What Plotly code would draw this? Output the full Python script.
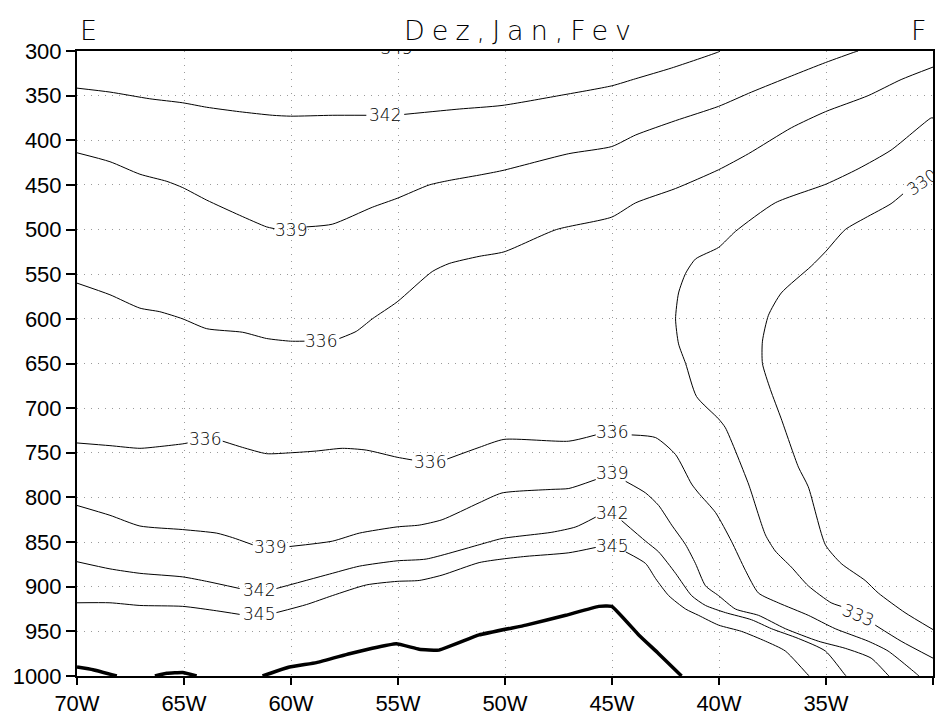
import plotly.graph_objects as go

# Axis ticks
LON_TICKS = [-70, -65, -60, -55, -50, -45, -40, -35, -30]
LON_LABELS = ["70W", "65W", "60W", "55W", "50W", "45W", "40W", "35W", "30W"]
P_TICKS = [300, 350, 400, 450, 500, 550, 600, 650, 700, 750, 800, 850, 900, 950, 1000]

# Equivalent potential temperature isolines (lon, hPa); None leaves a gap for the label
th342_top_lon = [-70, -68.46, -66.6, -65.06, -63.94, -62.4, -60.86, -60.02, -58.07, -56.48, None,
                 -54.71, -52.14, -50.14, -47.48, -45.01, -43.89, -42.21, -40.02, -39.95]
th342_top_p = [341.6, 346, 353.5, 358, 363, 368, 372, 373, 372, 372, None,
               371, 365, 361, 350, 339, 331, 319, 301, 300]

th339_top_lon = [-70, -68.46, -67.06, -65.8, -65.06, -63.94, -62.4, -61.14, -60.77, None,
                 -59.28, -58.07, -56.2, -55.04, -53.54, -52.61, -51.21, -50.14, -47.02, -45.01,
                 -43.89, -42.03, -40.02, -38.48, -36.62, -35.03, -33.64, -33.5]
th339_top_p = [414, 424, 438, 446, 453, 467, 484, 497, 499, None,
               497, 494, 475, 465, 450, 445, 439, 434, 415, 407,
               394, 378, 362, 346, 328, 313, 301, 300]

th336_top_lon = [-70, -68.46, -67.06, -66.13, -65.06, -63.94, -62.26, -61.14, -60.02, -59.37, None,
                 -57.74, -56.95, -56.2, -55.04, -53.4, -52.61, -51.21, -50.05, -47.6,
                 -45.01, -43.89, -42.03, -40.02, -38.62, -36.62, -35.03, -33.03, -31.49, -30]
th336_top_p = [560, 573, 588, 592, 600, 611, 615, 622, 625, 625, None,
               622, 614, 600, 581, 547, 538, 530, 525, 500,
               486, 470, 454, 433, 415, 386, 368, 350, 332, 318]

th333_lon = [-30, -30.09, -31.96, -33.5, -34.99, -37.37, -39.23, -40.02, -41.1, -41.56, -41.89,
             -42.03, -41.89, -41.56, -41.05, -40.02, -39.7, -38.62, -38.48, -37.83, -37.37,
             -36.62, -35.83, -34.76, -34.29, None, -32.7, -31.49, -30]
th333_p = [375, 375, 411, 432, 449, 470, 502, 520, 533, 549, 571,
           600, 628, 650, 687, 712, 722, 785, 795, 842, 860,
           878, 899, 918, 922, None, 943, 961, 980]

th330_lon = [-31.4, -31.96, -33.17, -34.1, -35.03, -35.69, -37.09, -37.69, -37.97, -37.97,
             -37.6, -37.09, -36.29, -35.83, -35.03, -34.29, -33.17, -32.56, -31.31, -30]
th330_p = [460, 471, 487, 500, 525, 541, 571, 596, 625, 650,
           679, 712, 766, 788, 853, 874, 893, 907, 929, 948]

th336_low_lon = [-70, -68.46, -67.06, -66.13, -65.06, -64.83, None,
                 -63.19, -62.26, -61.14, -60.02, -58.81, -57.6, -56.48, -55.04, -54.34, None,
                 -52.7, -51.21, -50.05, -47.02, -45.76, None,
                 -44.08, -42.96, -42.03, -41.28, -40.96, -40.16, -39.42, -38.76, -38.16, -37.23,
                 -35.83, -34.57, -33.03, -32.1, -30.7, -30.65]
th336_low_p = [739, 742, 745, 743, 740, 739, None,
               737, 744, 751, 750, 748, 745, 747, 755, 758, None,
               757, 744, 735, 737, 730, None,
               730, 733, 752, 785, 795, 817, 849, 882, 907, 918,
               932, 947, 961, 972, 999, 1000]

th339_low_lon = [-70, -68.46, -67.06, -65.06, -63.47, -62.73, -61.79, None,
                 -60.07, -58.07, -56.81, -55.04, -54.01, -52.94, -51.21, -50.14, -47.81, -47.02, -45.76, None,
                 -44.36, -43.43, -42.82, -42.21, -41.56, -41.1, -40.63, -40.02, -39.23, -38.16,
                 -36.9, -35.36, -34.1, -32.89, -32.1, -32.05]
th339_low_p = [809, 820, 832, 836, 840, 845, 853, None,
               855, 849, 840, 833, 831, 825, 806, 795, 791, 790, 780, None,
               782, 795, 809, 831, 853, 874, 899, 910, 925, 932,
               947, 961, 969, 980, 999, 1000]

th342_low_lon = [-70, -68.46, -67.06, -65.06, -63.94, -62.4, None,
                 -60.68, -58.07, -56.81, -55.04, -53.68, -51.21, -50.14, -47.81, -46.69, -45.76, None,
                 -44.55, -43.43, -42.82, -42.03, -41.28, -40.63, -39.7, -38.48, -37.55, -36.29,
                 -35.03, -34.1, -34.05]
th342_low_p = [872, 880, 885, 889, 894, 902, None,
               902, 885, 877, 871, 869, 853, 846, 839, 833, 822, None,
               826, 849, 861, 885, 910, 921, 929, 937, 947, 958,
               972, 999, 1000]

th345_low_lon = [-70, -68.46, -67.06, -65.06, -63.47, -62.4, None,
                 -60.68, -59.28, -58.07, -56.48, -55.04, -54.01, -52.94, -51.21, -50.14, -49.02, -47.02, -45.76, None,
                 -44.36, -43.43, -42.96, -42.35, -41.56, -40.96, -40.02, -38.95, -37.83, -36.9,
                 -35.83, -35.78]
th345_low_p = [918, 918, 921, 922, 927, 931, None,
               929, 920, 910, 898, 894, 893, 887, 873, 869, 866, 862, 856, None,
               861, 874, 891, 910, 925, 932, 943, 950, 961, 972,
               999, 1000]

isolines = [
    (th342_top_lon, th342_top_p), (th339_top_lon, th339_top_p), (th336_top_lon, th336_top_p),
    (th333_lon, th333_p), (th330_lon, th330_p), (th336_low_lon, th336_low_p),
    (th339_low_lon, th339_low_p), (th342_low_lon, th342_low_p), (th345_low_lon, th345_low_p),
]

# Surface (terrain) outline
terrain_lon = [-70, -69.25, -68.14, None, -66.36, -65.8, -65.06, -64.41, None,
               -61.33, -60.07, -58.81, -57.27, -56.2, -55.08, -54.01, -53.08, -51.21,
               -49.02, -47.16, -45.62, -45.01, -43.75, -42.82, -41.75]
terrain_p = [990, 993, 1000, None, 1000, 997, 996, 1000, None,
             1000, 990, 985, 975, 969, 964, 970, 971, 954,
             943, 932, 922, 922, 954, 975, 1000]

# Isoline labels
label_lon = [-55.6, -60.0, -58.6, -64.03, -53.5, -45.01, -61.0, -45.01, -61.51, -45.01, -61.51, -45.01, -33.5]
label_p = [372, 500, 625, 734, 760, 727, 856, 773, 904, 817, 930, 854, 932]
label_text = ["342", "339", "336", "336", "336", "336", "339", "339", "342", "342", "345", "345", "333"]
label_angle = [0, 0, 0, 0, 0, 0, 0, 0, 0, 0, 0, 0, 22]

# Labels that sit on the frame (clipped)
edge_label_lon = [-55.06]
edge_label_p = [298.5]
edge_label_text = ["345"]
rot_label_lon, rot_label_p, rot_label_text, rot_label_angle = -30.5, 447, "330", -35

LABEL_FONT = dict(family="DejaVu Sans", size=17, color="black", weight=200)

fig = go.Figure()

for lon, p in isolines:
    fig.add_trace(go.Scatter(x=lon, y=p, mode="lines",
                             line=dict(color="black", width=1, shape="spline", smoothing=0.6),
                             connectgaps=False, hoverinfo="skip", showlegend=False))

fig.add_trace(go.Scatter(x=terrain_lon, y=terrain_p, mode="lines",
                         line=dict(color="black", width=3.5, shape="spline", smoothing=0.3),
                         connectgaps=False, hoverinfo="skip", showlegend=False))

fig.add_trace(go.Scatter(x=edge_label_lon, y=edge_label_p, mode="text", text=edge_label_text,
                         textfont=LABEL_FONT, textposition="middle center", cliponaxis=True,
                         hoverinfo="skip", showlegend=False))

annotations = []
for lo, pp, t, a in zip(label_lon, label_p, label_text, label_angle):
    annotations.append(dict(x=lo, y=pp, xref="x", yref="y", text=t, showarrow=False,
                            textangle=a, font=LABEL_FONT, xanchor="center", yanchor="middle"))
annotations.append(dict(x=rot_label_lon, y=rot_label_p, xref="x", yref="y", text=rot_label_text,
                        showarrow=False, textangle=rot_label_angle, font=LABEL_FONT,
                        xanchor="center", yanchor="middle"))
# white strip right of the frame so the edge label is cut at the border
annotations.append(dict(x=1, y=0.78, xref="paper", yref="paper", text=" ", showarrow=False,
                        xanchor="left", yanchor="middle", xshift=1.5, width=14, height=50,
                        bgcolor="white", borderpad=0, borderwidth=0))

HEAD_FONT = dict(family="DejaVu Sans", size=27, color="black", weight=200)
annotations += [
    dict(x=0.5, y=1, xref="paper", yref="paper", xanchor="center", yanchor="bottom", yshift=3,
         xshift=16, text='<span style="letter-spacing:7px">Dez,Jan,Fev</span>', showarrow=False,
         font=HEAD_FONT),
    dict(x=0, y=1, xref="paper", yref="paper", xanchor="left", yanchor="bottom", yshift=3,
         xshift=1, text="E", showarrow=False, font=HEAD_FONT),
    dict(x=1, y=1, xref="paper", yref="paper", xanchor="right", yanchor="bottom", yshift=3,
         xshift=-4, text="F", showarrow=False, font=HEAD_FONT),
]

TICK_FONT = dict(family="Liberation Sans", size=22, color="black")

fig.update_layout(
    width=946, height=727,
    margin=dict(l=77, r=11, t=51, b=31),
    paper_bgcolor="white", plot_bgcolor="white",
    annotations=annotations,
    xaxis=dict(range=[-70, -30], tickvals=LON_TICKS, ticktext=LON_LABELS, tickfont=TICK_FONT,
               showline=True, linecolor="black", linewidth=2, mirror=True,
               ticks="outside", ticklen=7, tickwidth=2, tickcolor="black",
               showgrid=True, gridcolor="#9a9a9a", gridwidth=1, griddash="1px,6px",
               zeroline=False),
    yaxis=dict(range=[1000, 300], tickvals=P_TICKS, tickfont=TICK_FONT,
               showline=True, linecolor="black", linewidth=2, mirror=True,
               ticks="outside", ticklen=9, tickwidth=2, tickcolor="black",
               showgrid=True, gridcolor="#9a9a9a", gridwidth=1, griddash="1px,6px",
               zeroline=False),
)

fig.write_html("out.html")
